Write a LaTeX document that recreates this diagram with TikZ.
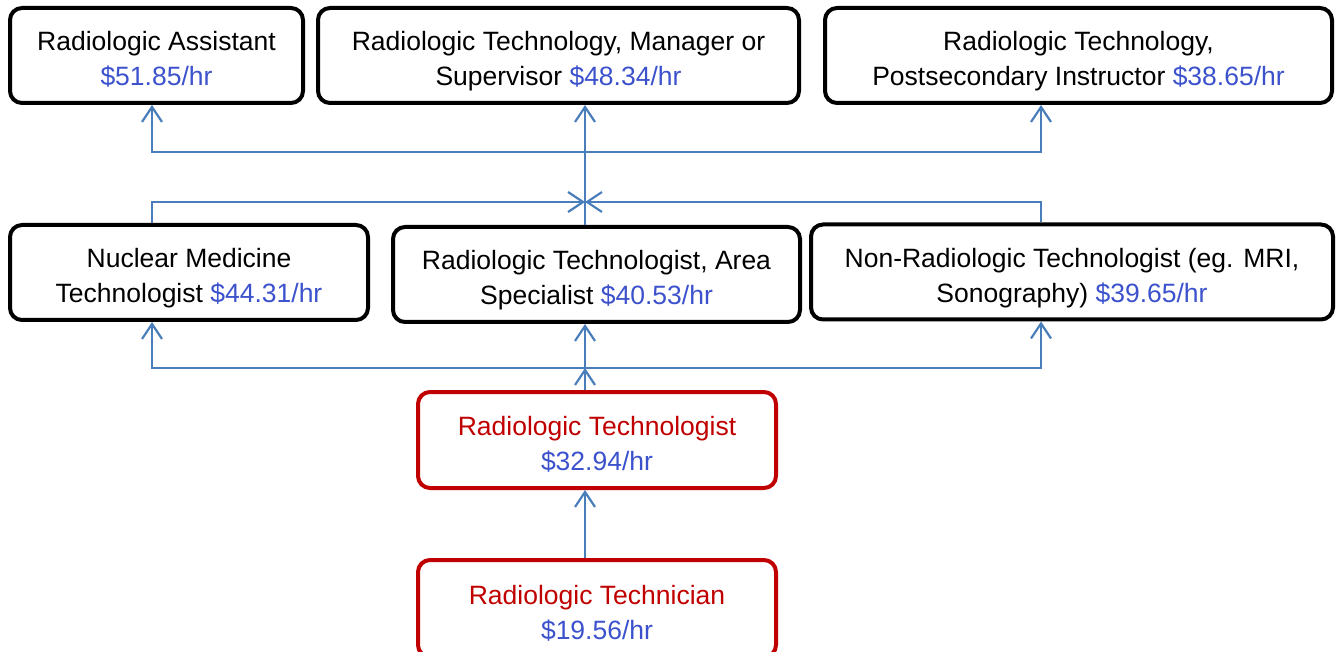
\documentclass[tikz,border=0pt]{standalone}
\usepackage{fontspec}
\setmainfont{Liberation Sans}
\usepackage{xcolor}
\usetikzlibrary{arrows.meta, calc, positioning}
\definecolor{wage}{RGB}{60,82,204}
\definecolor{entry}{RGB}{192,0,0}
\definecolor{link}{RGB}{74,126,187}

\begin{document}
\begin{tikzpicture}[x=1pt, y=-1pt,
  box/.style={draw=black, line width=4pt, rounded corners=12pt, align=center,
    inner sep=0pt, text height=61pt, text depth=0pt,
    font={\fontsize{26.5pt}{35pt}\selectfont}},
  entrybox/.style={box, draw=entry, text=entry},
  link/.style={draw=link, line width=2.2pt},
  up/.style={link, -{Straight Barb[length=15pt, width=20pt, line width=2.2pt]}}]
\useasboundingbox (0,0) rectangle (1339,652);

% Top row
\node[box, minimum width=293pt, minimum height=95pt] (asst) at (156.5,55.5)
  {Radiologic Assistant\\\textcolor{wage}{\$51.85/hr}};
\node[box, minimum width=481pt, minimum height=95pt] (mgr) at (558.5,55.5)
  {Radiologic Technology, Manager or\\Supervisor \textcolor{wage}{\$48.34/hr}};
\node[box, minimum width=507pt, minimum height=95pt] (instr) at (1078.5,55.5)
  {Radiologic Technology,\\Postsecondary Instructor \textcolor{wage}{\$38.65/hr}};

% Middle row
\node[box, minimum width=358pt, minimum height=95pt] (nucl) at (189,272.5)
  {Nuclear Medicine\\Technologist \textcolor{wage}{\$44.31/hr}};
\node[box, minimum width=407pt, minimum height=95pt] (area) at (596.5,274.5)
  {Radiologic Technologist, Area\\Specialist \textcolor{wage}{\$40.53/hr}};
\node[box, minimum width=522pt, minimum height=95pt] (nonrad) at (1072,272)
  {Non-Radiologic Technologist (eg. MRI,\\Sonography) \textcolor{wage}{\$39.65/hr}};

% Entry level
\node[entrybox, minimum width=358pt, minimum height=96pt] (tgist) at (597,440)
  {Radiologic Technologist\\\textcolor{wage}{\$32.94/hr}};
\node[entrybox, minimum width=358pt, minimum height=97pt] (tcian) at (597,608.5)
  {Radiologic Technician\\\textcolor{wage}{\$19.56/hr}};

% Connector columns and bars
\coordinate (colL) at (152,0);
\coordinate (colM) at (585,0);
\coordinate (colR) at (1041,0);
\coordinate (topbar) at (585,152);
\coordinate (midbar) at (585,202);
\coordinate (lowbar) at (585,368);

\draw[up] (tcian.north -| colM) -- (tgist.south -| colM);
\draw[up] (tgist.north -| colM) -- (lowbar);
\draw[up] (lowbar) -| (nucl.south -| colL);
\draw[up] (lowbar) -- (area.south -| colM);
\draw[up] (lowbar) -| (nonrad.south -| colR);

\draw[up] (nucl.north -| colL) |- (midbar);
\draw[up] (nonrad.north -| colR) |- (midbar);
\draw[link] (area.north -| colM) -- (topbar);
\draw[up] (topbar) -| (asst.south -| colL);
\draw[up] (topbar) -- (mgr.south -| colM);
\draw[up] (topbar) -| (instr.south -| colR);
\end{tikzpicture}
\end{document}
